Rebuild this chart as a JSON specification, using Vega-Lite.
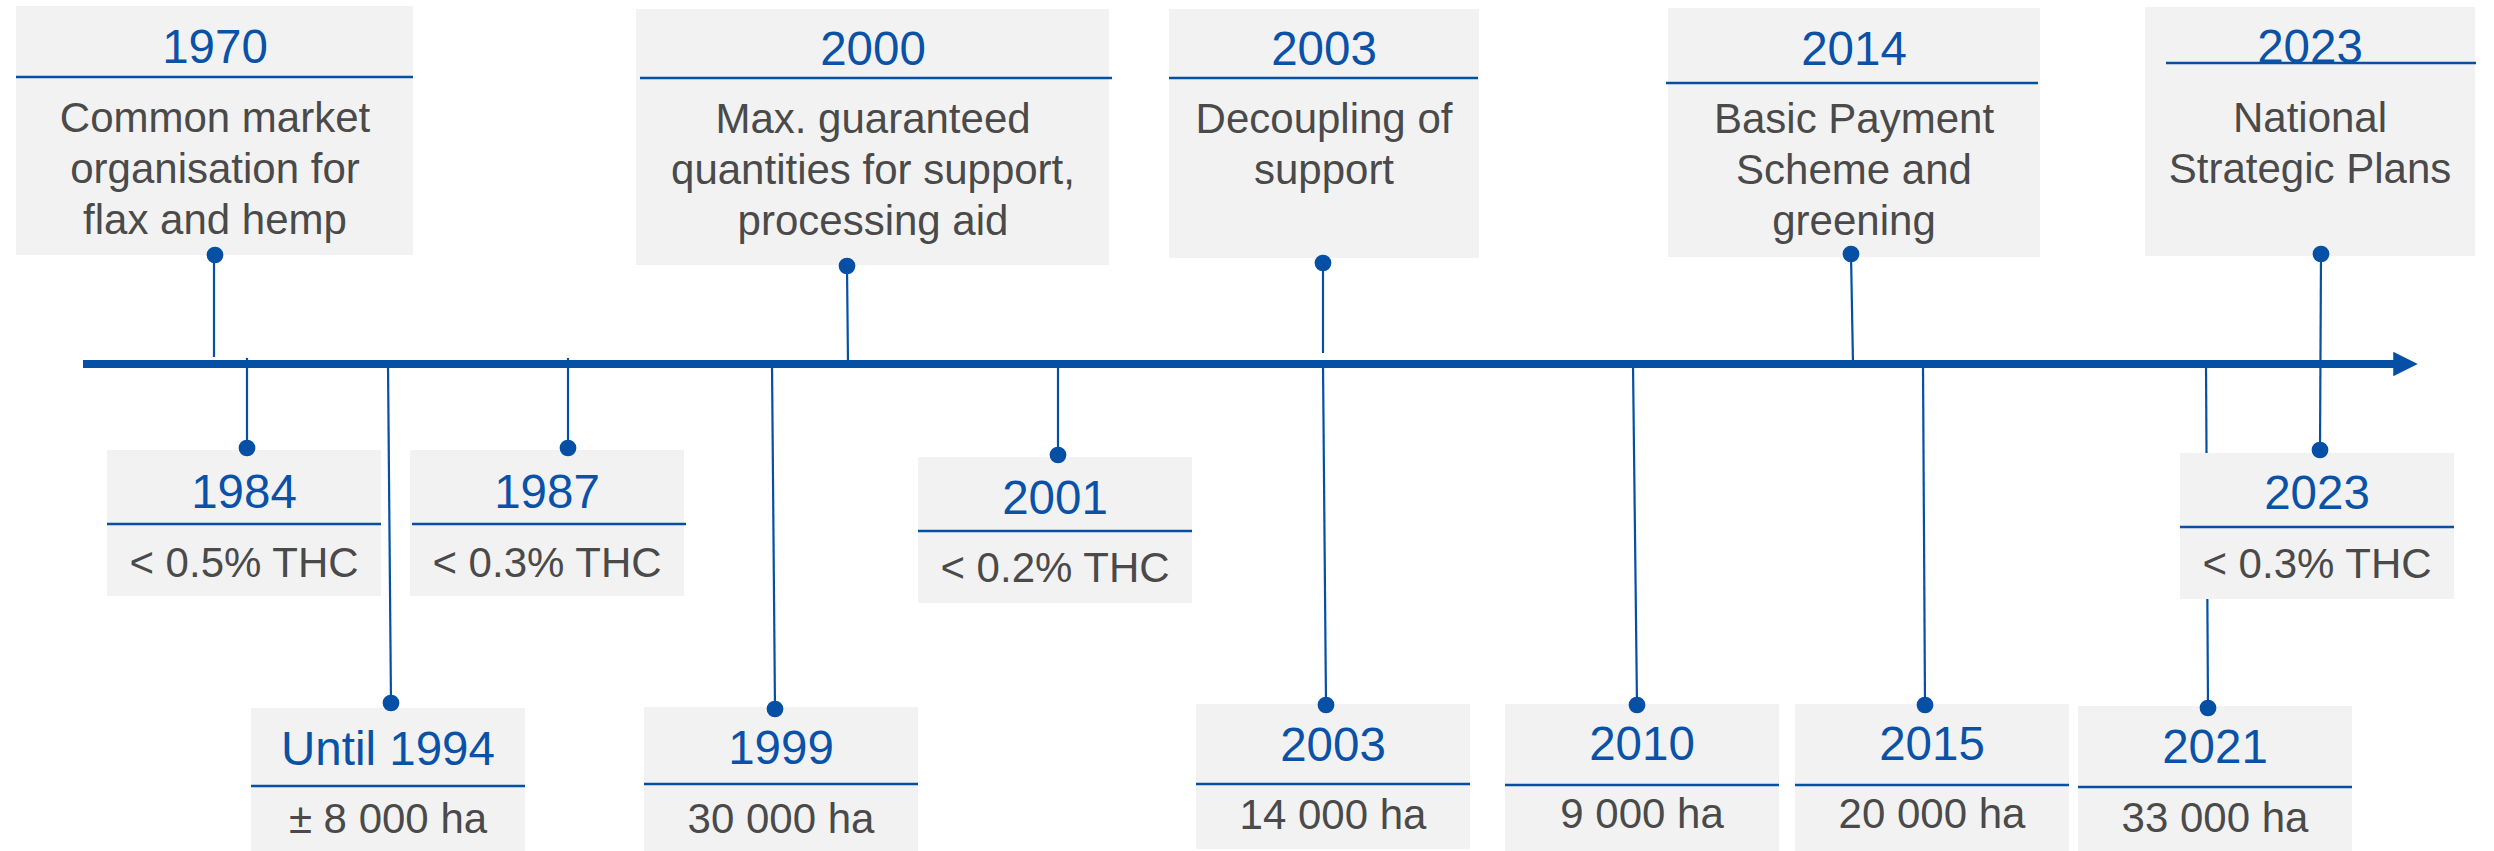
{
  "$schema": "https://vega.github.io/schema/vega-lite/v6.json",
  "width": 2494,
  "height": 851,
  "padding": 0,
  "autosize": {"type": "fit", "contains": "padding"},
  "background": "#ffffff",
  "config": {"view": {"stroke": null}},
  "datasets": {
    "boxes": [
      {"year": "1970", "desc": "Common market\norganisation for\nflax and hemp", "x0": 16, "x1": 413, "y0": 6, "y1": 255, "dy": 77, "dx0": 16, "dx1": 413, "tx": 215, "yy": 63, "yd": 132, "cx": 215, "cy": 255},
      {"year": "2000", "desc": "Max. guaranteed\nquantities for support,\nprocessing aid", "x0": 636, "x1": 1109, "y0": 9, "y1": 265, "dy": 78, "dx0": 640, "dx1": 1112, "tx": 873, "yy": 65, "yd": 133, "cx": 847, "cy": 266},
      {"year": "2003", "desc": "Decoupling of\nsupport", "x0": 1169, "x1": 1479, "y0": 9, "y1": 258, "dy": 78, "dx0": 1169, "dx1": 1478, "tx": 1324, "yy": 65, "yd": 133, "cx": 1323, "cy": 263},
      {"year": "2014", "desc": "Basic Payment\nScheme and\ngreening", "x0": 1668, "x1": 2040, "y0": 8, "y1": 257, "dy": 83, "dx0": 1666, "dx1": 2038, "tx": 1854, "yy": 65, "yd": 133, "cx": 1851, "cy": 254},
      {"year": "2023", "desc": "National\nStrategic Plans", "x0": 2145, "x1": 2475, "y0": 7, "y1": 256, "dy": 63, "dx0": 2166, "dx1": 2476, "tx": 2310, "yy": 63, "yd": 132, "cx": 2321, "cy": 254},
      {"year": "1984", "desc": "< 0.5% THC", "x0": 107, "x1": 381, "y0": 450, "y1": 596, "dy": 524, "dx0": 107, "dx1": 381, "tx": 244, "yy": 508, "yd": 577, "cx": 247, "cy": 448},
      {"year": "1987", "desc": "< 0.3% THC", "x0": 410, "x1": 684, "y0": 450, "y1": 596, "dy": 524, "dx0": 412, "dx1": 686, "tx": 547, "yy": 508, "yd": 577, "cx": 568, "cy": 448},
      {"year": "2001", "desc": "< 0.2% THC", "x0": 918, "x1": 1192, "y0": 457, "y1": 603, "dy": 531, "dx0": 918, "dx1": 1192, "tx": 1055, "yy": 514, "yd": 582, "cx": 1058, "cy": 455},
      {"year": "2023", "desc": "< 0.3% THC", "x0": 2180, "x1": 2454, "y0": 453, "y1": 599, "dy": 527, "dx0": 2180, "dx1": 2454, "tx": 2317, "yy": 509, "yd": 578, "cx": 2320, "cy": 450},
      {"year": "Until 1994", "desc": "± 8 000 ha", "x0": 251, "x1": 525, "y0": 708, "y1": 851, "dy": 786, "dx0": 251, "dx1": 525, "tx": 388, "yy": 765, "yd": 833, "cx": 391, "cy": 703},
      {"year": "1999", "desc": "30 000 ha", "x0": 644, "x1": 918, "y0": 707, "y1": 851, "dy": 784, "dx0": 644, "dx1": 918, "tx": 781, "yy": 764, "yd": 833, "cx": 775, "cy": 709},
      {"year": "2003", "desc": "14 000 ha", "x0": 1196, "x1": 1470, "y0": 704, "y1": 849, "dy": 784, "dx0": 1196, "dx1": 1470, "tx": 1333, "yy": 761, "yd": 829, "cx": 1326, "cy": 705},
      {"year": "2010", "desc": "9 000 ha", "x0": 1505, "x1": 1779, "y0": 704, "y1": 851, "dy": 785, "dx0": 1505, "dx1": 1779, "tx": 1642, "yy": 760, "yd": 828, "cx": 1637, "cy": 705},
      {"year": "2015", "desc": "20 000 ha", "x0": 1795, "x1": 2069, "y0": 704, "y1": 851, "dy": 785, "dx0": 1795, "dx1": 2069, "tx": 1932, "yy": 760, "yd": 828, "cx": 1925, "cy": 705},
      {"year": "2021", "desc": "33 000 ha", "x0": 2078, "x1": 2352, "y0": 706, "y1": 851, "dy": 787, "dx0": 2078, "dx1": 2352, "tx": 2215, "yy": 763, "yd": 832, "cx": 2208, "cy": 708}
    ],
    "stems": [
      {"event": "1970", "xa": 214, "ya": 255, "xb": 214, "yb": 357},
      {"event": "2000", "xa": 847, "ya": 266, "xb": 848, "yb": 364},
      {"event": "2003 top", "xa": 1323, "ya": 263, "xb": 1323, "yb": 353},
      {"event": "2014", "xa": 1851, "ya": 254, "xb": 1853, "yb": 364},
      {"event": "2023 top", "xa": 2321, "ya": 254, "xb": 2320, "yb": 450},
      {"event": "1984", "xa": 247, "ya": 358, "xb": 247, "yb": 448},
      {"event": "1987", "xa": 568, "ya": 358, "xb": 568, "yb": 448},
      {"event": "2001", "xa": 1058, "ya": 364, "xb": 1058, "yb": 455},
      {"event": "Until 1994", "xa": 388, "ya": 364, "xb": 391, "yb": 703},
      {"event": "1999", "xa": 772, "ya": 364, "xb": 775, "yb": 709},
      {"event": "2003 bottom", "xa": 1323, "ya": 364, "xb": 1326, "yb": 705},
      {"event": "2010", "xa": 1633, "ya": 364, "xb": 1637, "yb": 705},
      {"event": "2015", "xa": 1923, "ya": 364, "xb": 1925, "yb": 705},
      {"event": "2021", "xa": 2206, "ya": 364, "xb": 2208, "yb": 708}
    ],
    "axisline": [
      {"start": 83, "end": 2396, "level": 364, "tip": 2405.5}
    ]
  },
  "layer": [
    {
      "data": {"name": "stems"},
      "mark": {"type": "rule", "color": "#0550a5", "strokeWidth": 2.2},
      "encoding": {
        "x": {"field": "xa", "type": "quantitative", "scale": {"domain": [0, 2494], "nice": false, "zero": false}, "axis": null},
        "x2": {"field": "xb"},
        "y": {"field": "ya", "type": "quantitative", "scale": {"domain": [0, 851], "nice": false, "zero": false, "reverse": true}, "axis": null},
        "y2": {"field": "yb"}
      }
    },
    {
      "data": {"name": "axisline"},
      "mark": {"type": "rule", "color": "#0550a5", "strokeWidth": 8},
      "encoding": {
        "x": {"field": "start", "type": "quantitative", "scale": {"domain": [0, 2494], "nice": false, "zero": false}, "axis": null},
        "x2": {"field": "end"},
        "y": {"field": "level", "type": "quantitative", "scale": {"domain": [0, 851], "nice": false, "zero": false, "reverse": true}, "axis": null}
      }
    },
    {
      "data": {"name": "axisline"},
      "mark": {"type": "point", "shape": "M-1,-1L1,0L-1,1Z", "filled": true, "color": "#0550a5", "opacity": 1, "size": 600, "strokeWidth": 0},
      "encoding": {
        "x": {"field": "tip", "type": "quantitative", "scale": {"domain": [0, 2494], "nice": false, "zero": false}, "axis": null},
        "y": {"field": "level", "type": "quantitative", "scale": {"domain": [0, 851], "nice": false, "zero": false, "reverse": true}, "axis": null}
      }
    },
    {
      "data": {"name": "boxes"},
      "mark": {"type": "rect", "color": "#f2f2f2"},
      "encoding": {
        "x": {"field": "x0", "type": "quantitative", "scale": {"domain": [0, 2494], "nice": false, "zero": false}, "axis": null},
        "x2": {"field": "x1"},
        "y": {"field": "y0", "type": "quantitative", "scale": {"domain": [0, 851], "nice": false, "zero": false, "reverse": true}, "axis": null},
        "y2": {"field": "y1"}
      }
    },
    {
      "data": {"name": "boxes"},
      "mark": {"type": "rule", "color": "#0550a5", "strokeWidth": 2.5},
      "encoding": {
        "x": {"field": "dx0", "type": "quantitative", "scale": {"domain": [0, 2494], "nice": false, "zero": false}, "axis": null},
        "x2": {"field": "dx1"},
        "y": {"field": "dy", "type": "quantitative", "scale": {"domain": [0, 851], "nice": false, "zero": false, "reverse": true}, "axis": null}
      }
    },
    {
      "data": {"name": "boxes"},
      "mark": {"type": "point", "shape": "circle", "filled": true, "color": "#0550a5", "opacity": 1, "size": 280},
      "encoding": {
        "x": {"field": "cx", "type": "quantitative", "scale": {"domain": [0, 2494], "nice": false, "zero": false}, "axis": null},
        "y": {"field": "cy", "type": "quantitative", "scale": {"domain": [0, 851], "nice": false, "zero": false, "reverse": true}, "axis": null}
      }
    },
    {
      "data": {"name": "boxes"},
      "mark": {"type": "text", "font": "Liberation Sans", "fontSize": 47.5, "color": "#0a52a8", "align": "center", "baseline": "alphabetic"},
      "encoding": {
        "x": {"field": "tx", "type": "quantitative", "scale": {"domain": [0, 2494], "nice": false, "zero": false}, "axis": null},
        "y": {"field": "yy", "type": "quantitative", "scale": {"domain": [0, 851], "nice": false, "zero": false, "reverse": true}, "axis": null},
        "text": {"field": "year", "type": "nominal"}
      }
    },
    {
      "data": {"name": "boxes"},
      "mark": {"type": "text", "font": "Liberation Sans", "fontSize": 42, "color": "#4a4a4a", "align": "center", "baseline": "alphabetic", "lineBreak": "\n", "lineHeight": 51},
      "encoding": {
        "x": {"field": "tx", "type": "quantitative", "scale": {"domain": [0, 2494], "nice": false, "zero": false}, "axis": null},
        "y": {"field": "yd", "type": "quantitative", "scale": {"domain": [0, 851], "nice": false, "zero": false, "reverse": true}, "axis": null},
        "text": {"field": "desc", "type": "nominal"}
      }
    }
  ]
}
